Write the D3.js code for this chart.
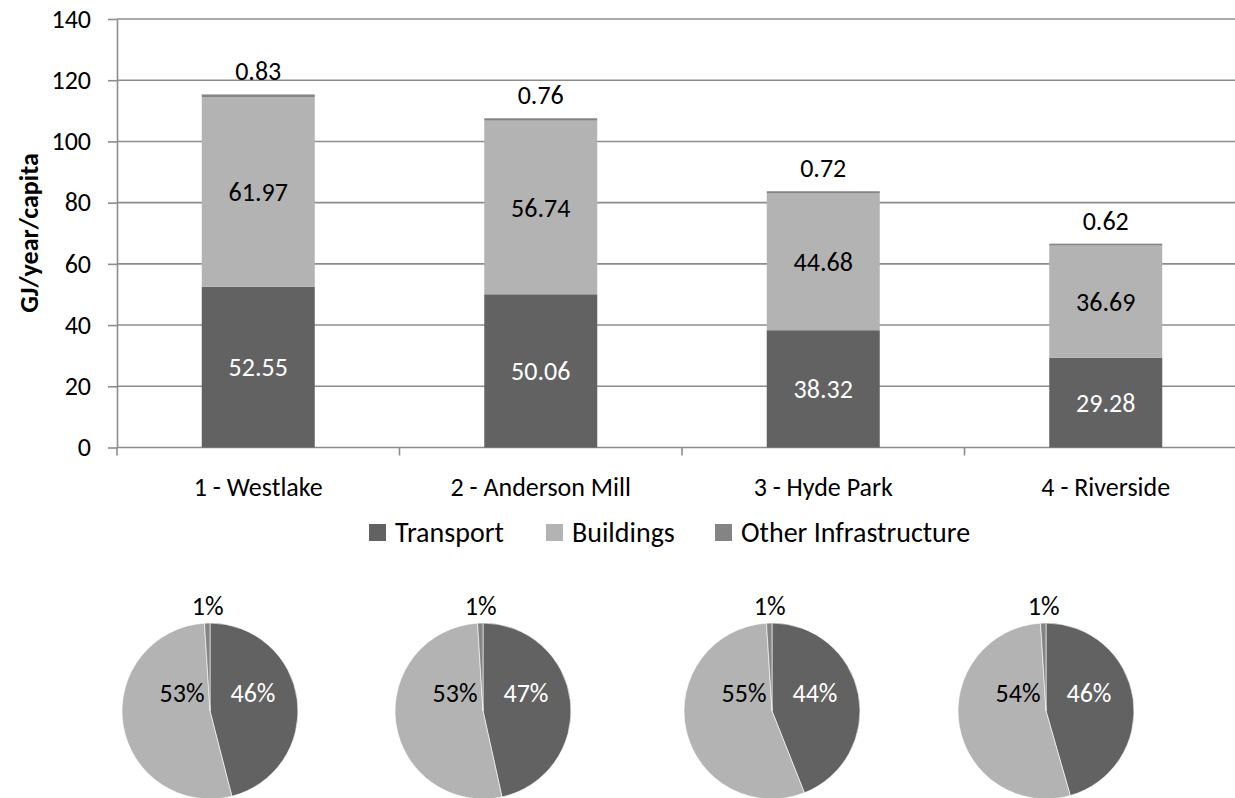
<!DOCTYPE html>
<html>
<head>
<meta charset="utf-8">
<script src="https://cdn.jsdelivr.net/npm/d3@7"></script>
<style>
  html, body { margin: 0; padding: 0; background: #fff; }
  svg { display: block; font-family: Carlito, Lato, "Open Sans", sans-serif; }
</style>
</head>
<body>
<svg id="chart" width="1235" height="798"></svg>
<script>
// Energy use per capita by neighbourhood (GJ/year/capita)
const categories = ["1 - Westlake", "2 - Anderson Mill", "3 - Hyde Park", "4 - Riverside"];
const seriesNames = ["Transport", "Buildings", "Other Infrastructure"];
const transport = [52.55, 50.06, 38.32, 29.28];
const buildings = [61.97, 56.74, 44.68, 36.69];
const otherInfra = [0.83, 0.76, 0.72, 0.62];
const yTicks = [0, 20, 40, 60, 80, 100, 120, 140];

// Share of each sector per neighbourhood (%), one pie each
const pieTransport = [46, 47, 44, 46];
const pieBuildings = [53, 53, 55, 54];
const pieOther = [1, 1, 1, 1];

const colors = ["#626262", "#b3b3b3", "#848484"];
const gridColor = "#8c8c8c";
const fontSize = 26;

const svg = d3.select("#chart");

// ---------- stacked bar chart ----------
const plot = { left: 117, right: 1247, top: 19, bottom: 447.5 };

const x = d3.scaleBand()
  .domain(categories)
  .range([plot.left, plot.right])
  .paddingInner(0.6)
  .paddingOuter(0.3);
const xTicks = d3.scaleBand().domain(categories).range([plot.left, plot.right]);

const y = d3.scaleLinear().domain([0, 140]).range([plot.bottom, plot.top]);

// horizontal gridlines
svg.append("g")
  .selectAll("line")
  .data(yTicks.filter(t => t > 0))
  .join("line")
  .attr("x1", plot.left).attr("x2", plot.right)
  .attr("y1", d => y(d)).attr("y2", d => y(d))
  .attr("stroke", gridColor).attr("stroke-width", 1.6);

// y axis
const yAxis = svg.append("g")
  .attr("transform", `translate(${plot.left},0)`)
  .call(d3.axisLeft(y).tickValues(yTicks).tickSize(9).tickPadding(17).tickSizeOuter(0));
yAxis.select(".domain").attr("stroke", gridColor).attr("stroke-width", 1.6);
yAxis.selectAll(".tick line").attr("stroke", gridColor).attr("stroke-width", 1.6);
yAxis.selectAll(".tick text")
  .attr("font-size", fontSize).attr("fill", "#000")
  .attr("font-family", "Carlito, Lato, sans-serif");

// x axis baseline and category separators
const xAxisG = svg.append("g").attr("transform", `translate(0,${plot.bottom})`);
xAxisG.append("line")
  .attr("x1", plot.left).attr("x2", plot.right)
  .attr("stroke", gridColor).attr("stroke-width", 1.6);
const sepPositions = categories.map(c => xTicks(c)).concat([plot.right]);
xAxisG.selectAll("line.sep")
  .data(sepPositions)
  .join("line")
  .attr("class", "sep")
  .attr("x1", d => d).attr("x2", d => d)
  .attr("y1", 0).attr("y2", 8)
  .attr("stroke", gridColor).attr("stroke-width", 1.6);
xAxisG.selectAll("text")
  .data(categories)
  .join("text")
  .attr("x", d => xTicks(d) + xTicks.bandwidth() / 2)
  .attr("y", 48)
  .attr("text-anchor", "middle")
  .attr("font-size", fontSize)
  .text(d => d);

// y axis title
svg.append("text")
  .attr("transform", "translate(38,233) rotate(-90)")
  .attr("text-anchor", "middle")
  .attr("font-size", fontSize)
  .attr("font-weight", "bold")
  .text("GJ/year/capita");

// stacked segments
const rows = categories.map((c, i) => ({
  category: c, Transport: transport[i], Buildings: buildings[i], "Other Infrastructure": otherInfra[i]
}));
const stacked = d3.stack().keys(seriesNames)(rows);

const layers = svg.append("g")
  .selectAll("g")
  .data(stacked)
  .join("g")
  .attr("fill", (d, i) => colors[i]);

layers.selectAll("rect")
  .data(d => d)
  .join("rect")
  .attr("x", d => x(d.data.category))
  .attr("width", x.bandwidth())
  .attr("y", d => y(d[1]))
  .attr("height", d => y(d[0]) - y(d[1]));

// value labels
const labelG = svg.append("g").attr("font-size", fontSize).attr("text-anchor", "middle");
stacked.forEach((layer, li) => {
  labelG.selectAll(`text.l${li}`)
    .data(layer)
    .join("text")
    .attr("class", `l${li}`)
    .attr("x", d => x(d.data.category) + x.bandwidth() / 2)
    .attr("y", d => li === 2 ? y(d[1]) - 14 : (y(d[0]) + y(d[1])) / 2)
    .attr("dy", li === 2 ? 0 : "0.35em")
    .attr("fill", li === 0 ? "#fff" : "#000")
    .text(d => (d[1] - d[0]).toFixed(2));
});

// legend
const legend = svg.append("g").attr("font-size", 28);
const legendItems = [
  { name: seriesNames[0], color: colors[0], x: 369 },
  { name: seriesNames[1], color: colors[1], x: 546 },
  { name: seriesNames[2], color: colors[2], x: 715 }
];
const li = legend.selectAll("g").data(legendItems).join("g")
  .attr("transform", d => `translate(${d.x},524)`);
li.append("rect").attr("width", 17).attr("height", 17).attr("fill", d => d.color);
li.append("text").attr("x", 26).attr("y", 8.5).attr("dy", "0.35em").text(d => d.name);

// ---------- pies ----------
const pieCenters = [210, 483, 772, 1046];
const pieCy = 711, pieR = 88;
const pie = d3.pie().sort(null).value(d => d.value);
const arc = d3.arc().innerRadius(0).outerRadius(pieR);

pieCenters.forEach((cx, i) => {
  const slices = pie([
    { key: seriesNames[0], value: pieTransport[i] },
    { key: seriesNames[1], value: pieBuildings[i] },
    { key: seriesNames[2], value: pieOther[i] }
  ]);
  const g = svg.append("g").attr("transform", `translate(${cx},${pieCy})`);
  g.selectAll("path")
    .data(slices)
    .join("path")
    .attr("d", arc)
    .attr("fill", (d, k) => colors[k])
    .attr("stroke", "#fff")
    .attr("stroke-width", 0.6);

  const t = g.append("g").attr("font-size", fontSize).attr("text-anchor", "middle");
  t.append("text").attr("x", 43).attr("y", -18).attr("dy", "0.35em")
    .attr("fill", "#fff").text(slices[0].data.value + "%");
  t.append("text").attr("x", -28).attr("y", -18).attr("dy", "0.35em")
    .attr("fill", "#000").text(slices[1].data.value + "%");
  const a = (slices[2].startAngle + slices[2].endAngle) / 2;
  t.append("text")
    .attr("x", Math.sin(a) * (pieR + 17) + 1)
    .attr("y", -Math.cos(a) * (pieR + 17))
    .attr("dy", "0.35em")
    .attr("fill", "#000").text(slices[2].data.value + "%");
});
</script>
</body>
</html>
